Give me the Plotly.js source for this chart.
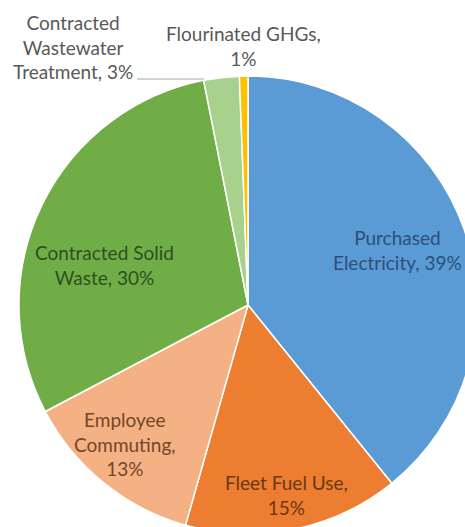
<!DOCTYPE html>
<html>
<head>
<meta charset="utf-8">
<script src="https://cdn.plot.ly/plotly-3.0.1.min.js"></script>
<style>
html,body{margin:0;padding:0;overflow:hidden;background:#fff;width:465px;height:527px;}
#chart{position:absolute;left:0;top:0;width:496px;height:610px;}
</style>
</head>
<body>
<div id="chart"></div>
<script>
// Data
const categories = ["Purchased Electricity", "Fleet Fuel Use", "Employee Commuting", "Contracted Solid Waste", "Contracted Wastewater Treatment", "Flourinated GHGs"];
const values = [39.2, 15.2, 12.9, 29.6, 2.5, 0.6];
const labelLines = [
  ["Purchased", "Electricity, "],
  ["Fleet Fuel Use,", ""],
  ["Employee", "Commuting,", ""],
  ["Contracted Solid", "Waste, "],
  ["Contracted", "Wastewater", "Treatment, "],
  ["Flourinated GHGs,", ""]
];
const colors = ["#5b9bd5", "#ed7d31", "#f4b183", "#70ad47", "#a9d18e", "#ffc000"];
const textColors = ["#2c5078", "#6a3812", "#74462a", "#2f4f1f", "#595959", "#595959"];

// Label placement (pixels in the 496x610 plot area)
const labelPos = [[397, 250], [286, 495], [125, 444], [104, 265], [73, 47], [243, 46]];

const total = values.reduce((a, b) => a + b, 0);
const W = 496, H = 610;

const annotations = categories.map((c, i) => {
  const pct = Math.round(values[i] / total * 100) + "%";
  const lines = labelLines[i].slice();
  lines[lines.length - 1] = lines[lines.length - 1] + pct;
  return {
    xref: "paper", yref: "paper",
    x: labelPos[i][0] / W, y: 1 - labelPos[i][1] / H,
    xanchor: "center", yanchor: "middle",
    text: lines.join("<br>"),
    showarrow: false,
    align: "center",
    font: {family: "Lato, 'Open Sans', sans-serif", size: 19, color: textColors[i]}
  };
});

const shapes = [{
  type: "line", xref: "paper", yref: "paper",
  x0: 137 / W, x1: 204 / W, y0: 1 - 79 / H, y1: 1 - 79 / H,
  line: {color: "#a6a6a6", width: 1}
}];

const trace = {
  type: "pie",
  labels: categories,
  values: values,
  sort: false,
  direction: "clockwise",
  rotation: 0,
  textinfo: "none",
  hoverinfo: "label+percent",
  marker: {colors: colors, line: {color: "#ffffff", width: 1.5}},
  domain: {x: [19 / W, 477 / W], y: [(H - 534) / H, (H - 76) / H]},
  showlegend: false
};

Plotly.newPlot("chart", [trace], {
  width: W, height: H,
  margin: {l: 0, r: 0, t: 0, b: 0},
  paper_bgcolor: "#ffffff",
  showlegend: false,
  annotations: annotations,
  shapes: shapes
}, {displayModeBar: false, staticPlot: true});
</script>
</body>
</html>
